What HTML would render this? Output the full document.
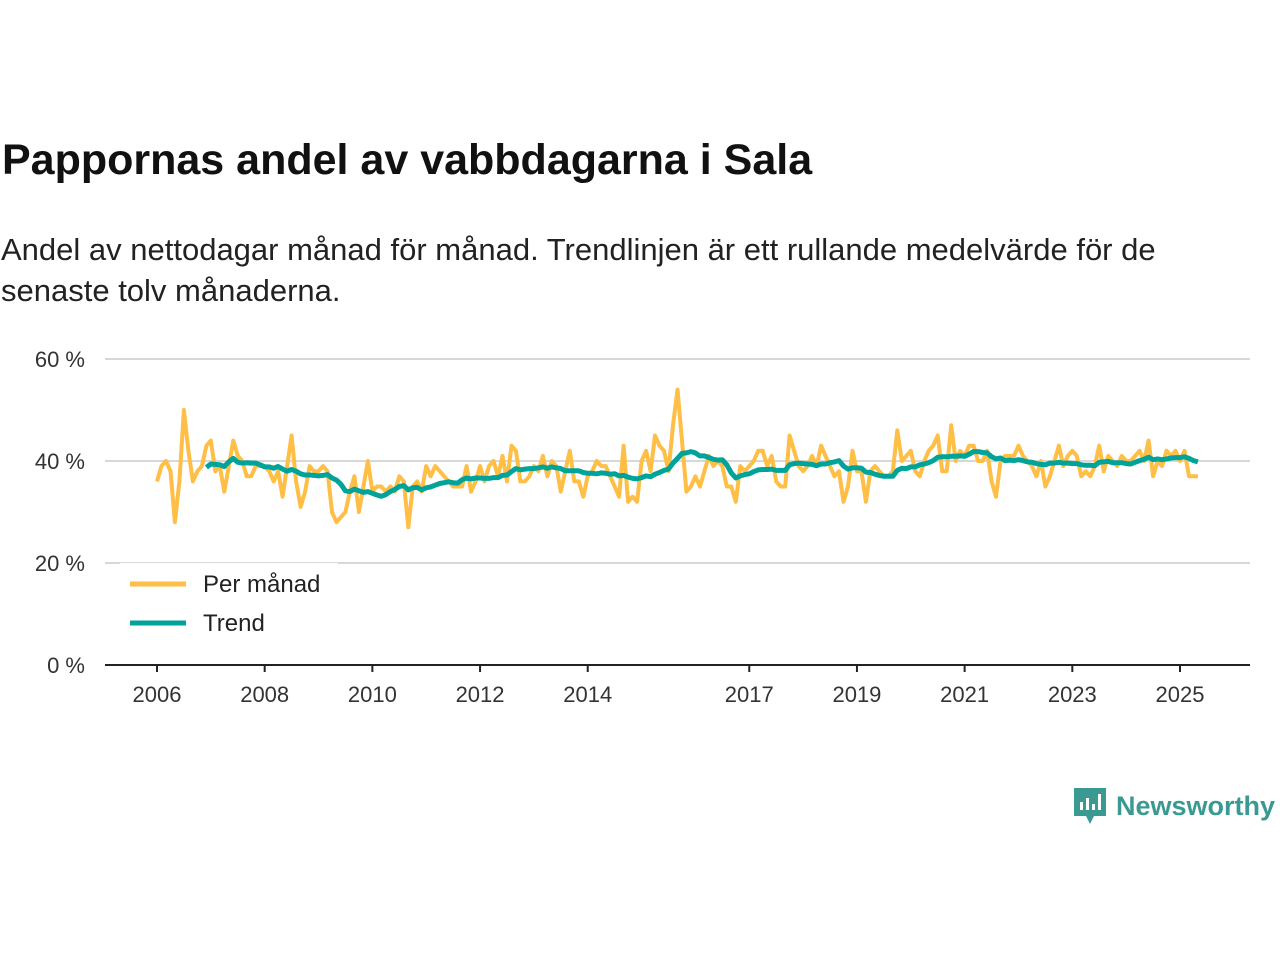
<!DOCTYPE html>
<html><head><meta charset="utf-8"><style>
body{margin:0;width:1280px;height:960px;background:#fff;font-family:"Liberation Sans",sans-serif;color:#111;overflow:hidden;position:relative}
#title{position:absolute;left:2px;top:136px;font-size:43px;font-weight:bold;margin:0}
#sub{position:absolute;left:1px;top:229px;font-size:31px;line-height:41px;width:1200px;color:#222}
#logo{position:absolute;left:1072px;top:786px;display:flex;align-items:center;gap:8px;color:#3a9a92;font-size:27px;font-weight:bold}
</style></head><body>
<h1 id="title">Pappornas andel av vabbdagarna i Sala</h1>
<div id="sub">Andel av nettodagar månad för månad. Trendlinjen är ett rullande medelvärde för de senaste tolv månaderna.</div>
<svg id="chart" width="1280" height="960" style="position:absolute;left:0;top:0"></svg>
<div id="logo"><svg width="36" height="40" viewBox="0 0 36 40"><path d="M2 2h32v28h-12l-4 8-4-8H2z" fill="#3a9a92"/><rect x="8" y="16" width="3" height="8" fill="#fff"/><rect x="14" y="12" width="3" height="12" fill="#fff"/><rect x="20" y="18" width="3" height="6" fill="#fff"/><rect x="26" y="8" width="3" height="16" fill="#fff"/></svg><span>Newsworthy</span></div>
<script>
const startYear=2006;
const monthly=[36,39,40,38,28,36,50,42,36,38,39,43,
44,38,39,34,39,44,41,40,37,37,39,39,
39,38,36,38,33,39,45,36,31,34,39,38,
38,39,38,30,28,29,30,34,37,30,35,40,
34,35,35,34,35,34,37,36,27,35,36,34,
39,37,39,38,37,36,35,35,35,39,34,36,
39,36,39,40,37,41,36,43,42,36,36,37,
39,38,41,37,40,39,34,38,42,36,36,33,
37,38,40,39,39,37,35,33,43,32,33,32,
40,42,38,45,43,42,38,47,54,44,34,35,
37,35,38,41,39,40,39,35,35,32,39,38,
39,40,42,42,39,41,36,35,35,45,42,39,
38,39,41,39,43,41,39,37,38,32,35,42,
38,38,32,38,39,38,37,37,38,46,40,41,
42,38,37,40,42,43,45,38,38,47,40,42,
41,43,43,40,40,42,36,33,40,41,41,41,
43,41,40,39,37,40,35,37,40,43,39,41,
42,41,37,38,37,39,43,38,41,40,39,41,
40,40,41,42,40,44,37,40,39,42,41,42,
40,42,37,37,37];
const yTicks=[0,20,40,60];
const xTickYears=[2006,2008,2010,2012,2014,2017,2019,2021,2023,2025];
const NS="http://www.w3.org/2000/svg";
const svg=document.getElementById('chart');
const x=m=>157+m*(1180-157)/(19*12);
const y=v=>665-v*(665-359)/60;
function el(t,a){const e=document.createElementNS(NS,t);for(const k in a)e.setAttribute(k,a[k]);svg.appendChild(e);return e;}
yTicks.forEach(v=>{
 if(v>0){const g=el('line',{x1:105,x2:1250,y1:y(v),y2:y(v),stroke:'#d8d8d8','stroke-width':2});
 
 }
 const t=el('text',{x:85,y:y(v)+8,'text-anchor':'end','font-size':22,fill:'#333','font-family':'Liberation Sans'});
 t.textContent=v+' %';
 
 
});
const ax=el('line',{x1:105,x2:1250,y1:665,y2:665,stroke:'#222','stroke-width':2});


xTickYears.forEach(yr=>{
 const xx=x((yr-startYear)*12);
 const tk=el('line',{x1:xx,x2:xx,y1:665,y2:672,stroke:'#222','stroke-width':2});
 
 
 const t=el('text',{x:xx,y:702,'text-anchor':'middle','font-size':22,fill:'#333','font-family':'Liberation Sans'});
 t.textContent=yr;
 
 
});
const mp=monthly.map((v,i)=>x(i).toFixed(1)+','+y(v).toFixed(1)).join(' ');
const l1=el('polyline',{points:mp,fill:'none',stroke:'#ffbe45','stroke-width':4,'stroke-linejoin':'round'});


const trend=[];
for(let i=11;i<monthly.length;i++){let s=0;for(let j=i-11;j<=i;j++)s+=monthly[j];trend.push([i,s/12]);}
const tp=trend.map(([i,v])=>x(i).toFixed(1)+','+y(v).toFixed(1)).join(' ');
const l2=el('polyline',{points:tp,fill:'none',stroke:'#00a39a','stroke-width':5,'stroke-linejoin':'round'});


const lb=el('rect',{x:120,y:563,width:218,height:80,fill:'#fff'});


[['Per månad','#ffbe45',584],['Trend','#00a39a',623]].forEach(([n,c,yy])=>{
 const s=el('line',{x1:130,x2:186,y1:yy,y2:yy,stroke:c,'stroke-width':5});
 
 
 const t=el('text',{x:203,y:yy+8,'font-size':24,fill:'#222','font-family':'Liberation Sans'});
 t.textContent=n;
 
 
});
</script>
</body></html>
